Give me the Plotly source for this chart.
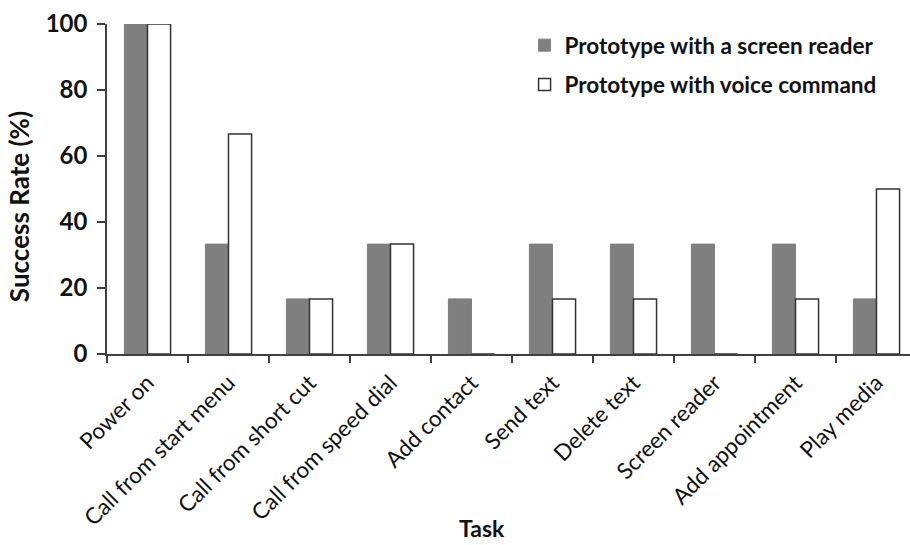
import plotly.graph_objects as go

tasks = ["Power on", "Call from start menu", "Call from short cut", "Call from speed dial",
         "Add contact", "Send text", "Delete text", "Screen reader", "Add appointment", "Play media"]
screen_reader = [100, 33.3, 16.7, 33.3, 16.7, 33.3, 33.3, 33.3, 33.3, 16.7]
voice_command = [100, 66.7, 16.7, 33.3, 0, 16.7, 16.7, 0, 16.7, 50]
y_ticks = [0, 20, 40, 60, 80, 100]

fig = go.Figure()
fig.add_trace(go.Bar(x=tasks, y=screen_reader, name="Prototype with a screen reader",
                     legendgroup="a",
                     marker=dict(color="#7f7f7f", line=dict(color="#7f7f7f", width=1))))
fig.add_trace(go.Bar(x=tasks, y=voice_command, name="Prototype with voice command",
                     legendgroup="b",
                     marker=dict(color="white", line=dict(color="#333333", width=1.5))))

font_family = "Lato, Open Sans, sans-serif"
fig.update_layout(
    width=910, height=545,
    margin=dict(l=107, r=0, t=24, b=191),
    plot_bgcolor="white", paper_bgcolor="white",
    barmode="group", bargap=0.43, bargroupgap=0,
    font=dict(family=font_family, color="#111111"),
    legend=dict(x=0.52, y=1.0, xanchor="left", yanchor="top",
                font=dict(size=22.5, weight="bold", family=font_family, color="#111111"),
                bgcolor="rgba(0,0,0,0)", tracegroupgap=7),
    xaxis=dict(type="category", range=[-0.5, 9.414], tickson="boundaries",
               ticks="outside", ticklen=7, tickcolor="#404040", tickwidth=1.5,
               showline=True, linecolor="#404040", linewidth=1.5,
               tickangle=-45, ticklabelstandoff=5,
               tickfont=dict(size=22.5, family=font_family, color="#111111"),
               showgrid=False, automargin=False),
    yaxis=dict(range=[0, 100], tickvals=y_ticks, ticks="outside", ticklen=8,
               tickcolor="#404040", tickwidth=1.5, ticklabelstandoff=5,
               showline=True, linecolor="#404040", linewidth=1.5,
               tickfont=dict(size=24, weight="bold", family=font_family, color="#111111"),
               showgrid=False, zeroline=False, automargin=False),
    annotations=[
        dict(text="Success Rate (%)", xref="paper", yref="paper",
             x=-0.1096, y=0.448, xanchor="center", yanchor="middle",
             textangle=-90, showarrow=False,
             font=dict(size=26, weight="bold", family=font_family, color="#111111")),
        dict(text="Task", xref="paper", yref="paper",
             x=0.467, y=-0.528, xanchor="center", yanchor="middle",
             showarrow=False,
             font=dict(size=23, weight="bold", family=font_family, color="#111111")),
    ],
)

fig.write_html("out.html", post_script="document.body.style.margin='0';",
               config={"displayModeBar": False})
